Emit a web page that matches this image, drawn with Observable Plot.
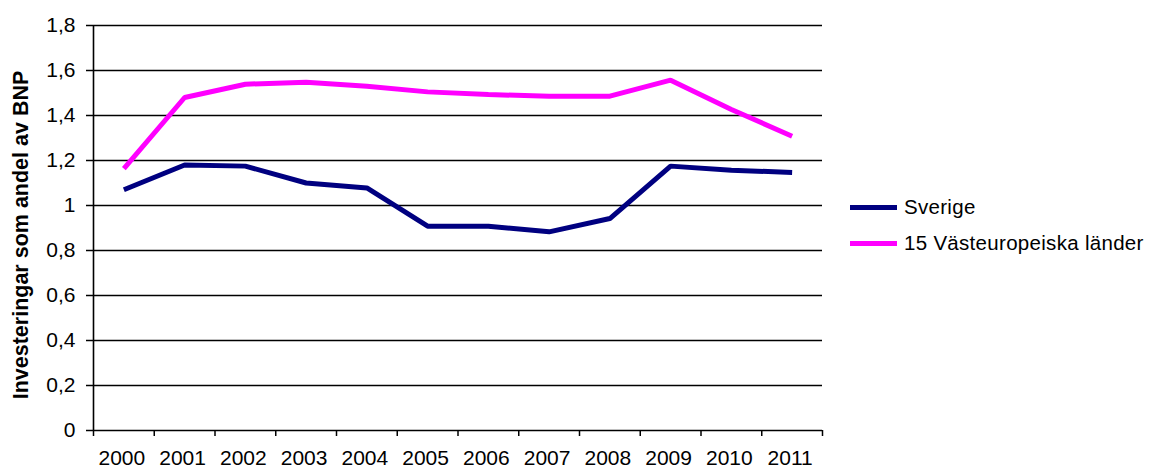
<!DOCTYPE html>
<html>
<head>
<meta charset="utf-8">
<script src="https://cdn.jsdelivr.net/npm/d3@7"></script>
<script src="https://cdn.jsdelivr.net/npm/@observablehq/plot@0.6"></script>
<style>
  html, body { margin: 0; padding: 0; background: #fff; }
  #wrap { position: relative; width: 1151px; height: 470px; font-family: "Liberation Sans", Arial, sans-serif; }
  #wrap svg { position: absolute; left: 0; top: 0; }
  .legend { position: absolute; left: 850px; top: 189px; font-size: 20.5px; letter-spacing: 0.3px; color: #000; }
  .legend .row { display: flex; align-items: center; height: 36px; }
  .legend .sw { width: 47px; height: 5px; margin-right: 7px; }
</style>
</head>
<body>
<div id="wrap"></div>
<script>
const years = [2000, 2001, 2002, 2003, 2004, 2005, 2006, 2007, 2008, 2009, 2010, 2011];
const sverige = [1.07, 1.18, 1.175, 1.10, 1.078, 0.908, 0.908, 0.883, 0.942, 1.175, 1.157, 1.147];
const vasteuropa = [1.164, 1.48, 1.539, 1.548, 1.53, 1.505, 1.493, 1.486, 1.486, 1.557, 1.427, 1.308];
const yTicks = [0, 0.2, 0.4, 0.6, 0.8, 1.0, 1.2, 1.4, 1.6, 1.8];
const seriesNames = ["Sverige", "15 Västeuropeiska länder"];
const seriesColors = ["#000080", "#ff00ff"];
const yLabel = "Investeringar som andel av BNP";

const data = [
  ...years.map((y, i) => ({ year: y, value: sverige[i], series: seriesNames[0] })),
  ...years.map((y, i) => ({ year: y, value: vasteuropa[i], series: seriesNames[1] }))
];
const boundaries = [...years.map(y => y - 0.5), years[years.length - 1] + 0.5];
const fmt = d => String(+d.toFixed(1)).replace(".", ",");

const chart = Plot.plot({
  width: 1151,
  height: 470,
  marginLeft: 93,
  marginRight: 329,
  marginTop: 25,
  marginBottom: 40,
  style: { fontFamily: "Liberation Sans, Arial, sans-serif", fontSize: "20px", color: "#000", background: "transparent" },
  x: { type: "linear", domain: [boundaries[0], boundaries[boundaries.length - 1]] },
  y: { domain: [0, 1.8] },
  color: { domain: seriesNames, range: seriesColors },
  marks: [
    Plot.ruleY(yTicks, { stroke: "#000", strokeWidth: 1.5 }),
    Plot.ruleX([boundaries[0]], { stroke: "#000", strokeWidth: 1.6 }),
    Plot.axisY({ ticks: yTicks, tickSize: 7, tickPadding: 11, tickFormat: fmt, strokeWidth: 1.5, strokeOpacity: 1, fontSize: 21, label: null }),
    Plot.axisX({ ticks: boundaries, tickSize: 6, tickFormat: () => "", strokeWidth: 1.5, strokeOpacity: 1, label: null }),
    Plot.axisX({ ticks: years, tickSize: 0, tickPadding: 20, dx: -2, tickFormat: d => String(d), fontSize: 21, label: null }),
    Plot.text([yLabel], { text: d => d, frameAnchor: "left", textAnchor: "middle", rotate: -90, dx: -72, dy: 7, fontSize: 21.5, fontWeight: "bold", fill: "#000" }),
    Plot.line(data, { x: "year", y: "value", z: "series", stroke: "series", strokeWidth: 5, strokeLinejoin: "miter", strokeLinecap: "butt" })
  ]
});
const wrap = document.getElementById("wrap");
wrap.appendChild(chart);

const legend = document.createElement("div");
legend.className = "legend";
seriesNames.forEach((name, i) => {
  const row = document.createElement("div");
  row.className = "row";
  const sw = document.createElement("span");
  sw.className = "sw";
  sw.style.background = seriesColors[i];
  const t = document.createElement("span");
  t.textContent = name;
  row.appendChild(sw);
  row.appendChild(t);
  legend.appendChild(row);
});
wrap.appendChild(legend);
</script>
</body>
</html>
